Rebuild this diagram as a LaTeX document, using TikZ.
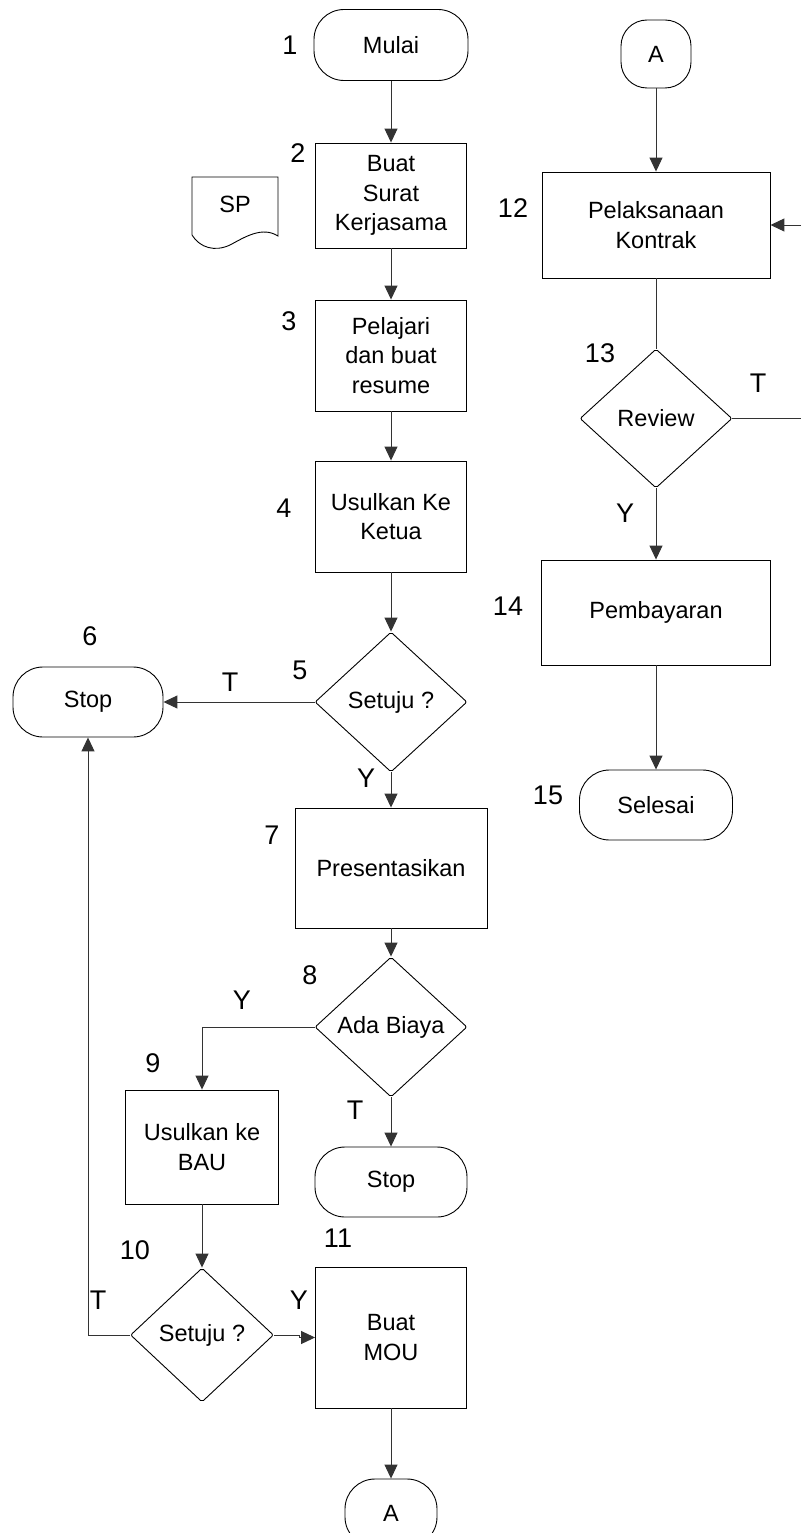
\documentclass[tikz,border=0pt]{standalone}
\usepackage{fontspec}
\setmainfont{Liberation Sans}
\usetikzlibrary{shapes.geometric,arrows.meta}
\begin{document}
\begin{tikzpicture}[x=1pt,y=-1pt,
  txt/.style={font=\fontsize{23.5}{29.5}\selectfont, align=center},
  proc/.style={txt,draw=black,line width=0.9pt,inner sep=0pt,rectangle},
  term/.style={txt,draw=black,line width=0.9pt,rounded corners=30pt,inner sep=0pt,rectangle},
  dec/.style={txt,draw=black,line width=0.9pt,diamond,inner sep=0pt,rounded corners=2pt},
  num/.style={font=\fontsize{27}{30}\selectfont,inner sep=0pt},
  conn/.style={draw=black!80,line width=1pt},
  arr/.style={conn,-{Triangle[width=13pt,length=14pt]}}]
\useasboundingbox (0,0) rectangle (801,1533);

% middle column
\node[term,minimum width=154pt,minimum height=71pt] (n1) at (391,45) {Mulai};
\node[proc,minimum width=151pt,minimum height=105pt] (n2) at (391,195.5) {Buat\\Surat\\Kerjasama};
\node[proc,minimum width=151pt,minimum height=111pt] (n3) at (391,355.5) {Pelajari\\dan buat\\resume};
\node[proc,minimum width=151pt,minimum height=111pt] (n4) at (391,516.5) {Usulkan Ke\\Ketua};
\node[dec,minimum width=152pt,minimum height=140pt] (d5) at (391,702) {Setuju ?};
\node[term,minimum width=150pt,minimum height=70pt] (s6) at (88,702) {Stop};
\node[proc,minimum width=192pt,minimum height=120pt] (n7) at (391,868) {Presentasikan};
\node[dec,minimum width=152pt,minimum height=140pt] (d8) at (391,1027) {Ada Biaya};
\node[proc,minimum width=153pt,minimum height=114pt] (n9) at (202,1147) {Usulkan ke\\BAU};
\node[term,minimum width=152pt,minimum height=70pt] (s2) at (391,1182) {Stop};
\node[dec,minimum width=143pt,minimum height=134pt] (d10) at (202,1335) {Setuju ?};
\node[proc,minimum width=151pt,minimum height=141pt] (n11) at (391,1337.5) {Buat\\MOU};
\node[term,minimum width=92pt,minimum height=68pt] (a2) at (391,1513) {A};

% right column
\node[term,minimum width=70pt,minimum height=68pt,rounded corners=26pt] (a1) at (656,54) {A};
\node[proc,minimum width=228pt,minimum height=106pt] (n12) at (656,225) {Pelaksanaan\\Kontrak};
\node[dec,minimum width=152pt,minimum height=139pt] (d13) at (656,418.5) {Review};
\node[proc,minimum width=229pt,minimum height=105pt] (n14) at (656,612.5) {Pembayaran};
\node[term,minimum width=153pt,minimum height=70pt] (sel) at (656,805) {Selesai};

% document SP
\draw[line width=0.9pt] (192,177) -- (192,235)
  .. controls (200,248) and (215,252) .. (230,245)
  .. controls (245,237) and (262,226) .. (278,236) -- (278,177) -- cycle;
\node[txt] (sp) at (235,204) {SP};

% numbers
\node[num] (l1) at (290,45) {1};
\node[num] (l2) at (298,153) {2};
\node[num] (l3) at (289,321) {3};
\node[num] (l4) at (284,508) {4};
\node[num] (l5) at (300,670) {5};
\node[num] (l6) at (90,636) {6};
\node[num] (l7) at (272,835) {7};
\node[num] (l8) at (310,975) {8};
\node[num] (l9) at (153,1063) {9};
\node[num] (l10) at (135,1250) {10};
\node[num] (l11) at (338,1238) {11};
\node[num] (l12) at (513,208) {12};
\node[num] (l13) at (600,353) {13};
\node[num] (l14) at (508,606) {14};
\node[num] (l15) at (548,795) {15};

% branch labels
\node[num] (t5) at (230,682) {T};
\node[num] (y5) at (366,778) {Y};
\node[num] (y8) at (242,1000) {Y};
\node[num] (t8) at (355,1110) {T};
\node[num] (t10) at (98,1300) {T};
\node[num] (y10) at (299,1300) {Y};
\node[num] (t13) at (758,383) {T};
\node[num] (y13) at (625,513) {Y};

% connectors
\draw[arr] (n1) -- (n2);
\draw[arr] (n2) -- (n3);
\draw[arr] (n3) -- (n4);
\draw[arr] (n4) -- (d5);
\draw[arr] (d5.west) -- (s6.east);
\draw[arr] (d5) -- (n7);
\draw[arr] (n7) -- (d8);
\draw[arr] (d8.west) -| (n9.north);
\draw[arr] (d8) -- (s2);
\draw[arr] (n9) -- (d10);
\draw[arr] (d10.east) -- ++(26,0) |- (n11.west);
\draw[arr] (d10.west) -| (s6.south);
\draw[arr] (n11) -- (a2);
\draw[arr] (a1) -- (n12);
\draw[conn] (n12) -- (d13);
\draw[arr] (d13) -- (n14);
\draw[arr] (n14) -- (sel);
\coordinate (r1) at (801,418.5);
\coordinate (r2) at (801,225);
\draw[conn] (d13.east) -- (r1);
\draw[arr] (r2) -- (n12.east);
\end{tikzpicture}
\end{document}
